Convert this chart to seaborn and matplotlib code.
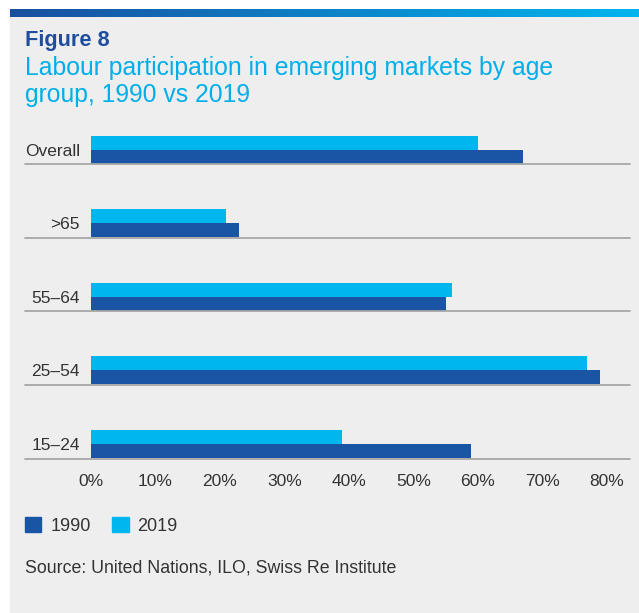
import numpy as np
import pandas as pd
import matplotlib
matplotlib.use('Agg')
from matplotlib import pyplot as plt
from matplotlib.patches import Rectangle, Patch
from matplotlib.colors import LinearSegmentedColormap
import seaborn as sns

# data (labour participation, %)
groups = ['Overall', '>65', '55–64', '25–54', '15–24']
y1990 = [67, 23, 55, 79, 59]
y2019 = [60, 21, 56, 77, 39]
ticks = [0, 10, 20, 30, 40, 50, 60, 70, 80]

DARK = '#1a55a5'
LIGHT = '#00b6ef'
TEXT = '#333333'

df = pd.DataFrame({
    'group': groups * 2,
    'year': ['1990'] * len(groups) + ['2019'] * len(groups),
    'value': y1990 + y2019,
})

sns.set_theme(style='white')
plt.rcParams['font.family'] = ['Liberation Sans', 'DejaVu Sans']

W, H = 639, 613
fig = plt.figure(figsize=(W / 100, H / 100), dpi=100, facecolor='white')

# grey panel + gradient strip on top
fig.patches.append(Rectangle((10 / W, 0), 629 / W, 1 - 17 / H,
                             transform=fig.transFigure, color='#eeeeee', zorder=-10))
gax = fig.add_axes([10 / W, 1 - 17 / H, 629 / W, 8 / H])
cmap = LinearSegmentedColormap.from_list('strip', ['#1a4f9f', '#00b5ee'])
gax.imshow(np.linspace(0, 1, 256)[None, :], aspect='auto', cmap=cmap)
gax.axis('off')

# titles
fig.text(25 / W, 1 - 45.7 / H, 'Figure 8', fontsize=15.7, fontweight='bold',
         color='#1f4e9c', va='baseline')
fig.text(25 / W, 1 - 74.5 / H, 'Labour participation in emerging markets by age',
         fontsize=17.8, color='#00aeea', va='baseline')
fig.text(25 / W, 1 - 102.3 / H, 'group, 1990 vs 2019',
         fontsize=17.8, color='#00aeea', va='baseline')

# main chart
ax = fig.add_axes([91 / W, 1 - 460 / H, (630 - 91) / W, (460 - 113) / H])
ax.set_facecolor('none')
sns.barplot(data=df, y='group', x='value', hue='year', hue_order=['2019', '1990'],
            palette={'2019': LIGHT, '1990': DARK}, orient='h', width=0.38,
            saturation=1, legend=False, linewidth=0, ax=ax)

ax.set_xlim(0, 83.6)
ax.set_ylim(4.22, -0.5)
ax.set_xticks(ticks)
ax.set_xticklabels([f'{t}%' for t in ticks])
ax.set_xlabel('')
ax.set_ylabel('')
for s in ax.spines.values():
    s.set_visible(False)
ax.tick_params(axis='both', length=0, labelcolor=TEXT)
ax.tick_params(axis='x', pad=10, labelsize=12.5)
ax.tick_params(axis='y', pad=8, labelsize=12.5)

# grey rule under each group, running under the labels too
trans = ax.get_yaxis_transform()
for i in range(len(groups)):
    ax.plot([-0.1224, 1.0], [i + 0.2, i + 0.2], transform=trans, clip_on=False,
            color='#a6a6a6', lw=1.3, zorder=3)

# legend
handles = [Patch(color=DARK, label='1990'), Patch(color=LIGHT, label='2019')]
fig.legend(handles=handles, loc='center left', bbox_to_anchor=(25 / W, 1 - 526 / H),
           ncol=2, frameon=False, fontsize=13, handlelength=0.9, handleheight=0.9,
           handletextpad=0.5, columnspacing=1.2, borderpad=0, borderaxespad=0,
           labelcolor=TEXT)

fig.text(25 / W, 1 - 568 / H, 'Source: United Nations, ILO, Swiss Re Institute',
         fontsize=12.75, color=TEXT, va='center')

fig.savefig('out.png', dpi=100)
